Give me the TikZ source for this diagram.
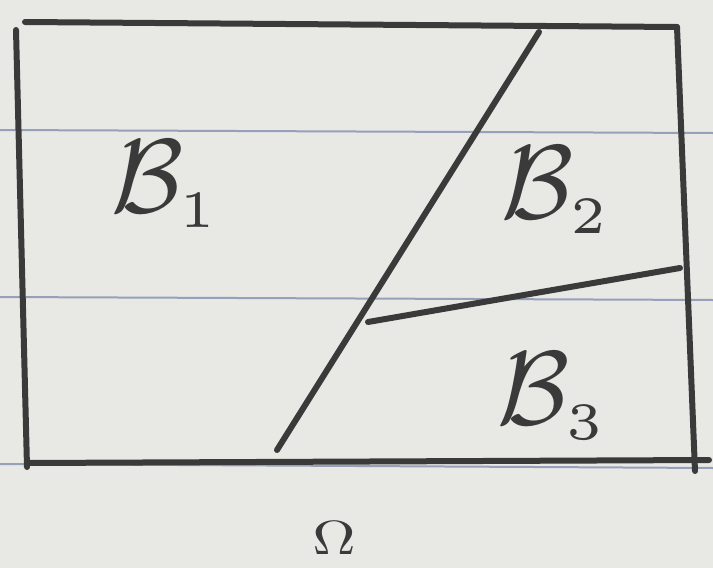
\documentclass[tikz,border=0pt]{standalone}
\usepackage{amsmath}
\begin{document}
\begin{tikzpicture}[x=1pt,y=-1pt,
  pen/.style={draw=ink,line width=6pt,line cap=round,line join=round},
  ruled/.style={draw=rule,line width=2pt},
  lab/.style={text=ink,scale=10.5,inner sep=0pt},
  omlab/.style={text=ink,xscale=6,yscale=4.8,inner sep=0pt}]
\definecolor{paper}{RGB}{232,232,229}
\definecolor{ink}{RGB}{58,58,58}
\definecolor{rule}{RGB}{150,160,185}
\fill[paper] (0,0) rectangle (713,568);
\useasboundingbox (0,0) rectangle (713,568);
% ruled paper lines
\coordinate (r1a) at (0,130); \coordinate (r1b) at (713,133);
\coordinate (r2a) at (0,297); \coordinate (r2b) at (713,300);
\coordinate (r3a) at (0,464); \coordinate (r3b) at (713,468);
\draw[ruled] (r1a) -- (r1b);
\draw[ruled] (r2a) -- (r2b);
\draw[ruled] (r3a) -- (r3b);
% rectangle corners
\coordinate (tl) at (25,22);
\coordinate (lt) at (16,30);
\coordinate (lb) at (27,467);
\coordinate (tr) at (677,27);
\coordinate (br) at (695,471);
\coordinate (bl) at (28,463);
\coordinate (be) at (709,460);
\draw[pen] (tl) -- (tr);
\draw[pen] (lt) -- (lb);
\draw[pen] (tr) -- (br);
\draw[pen] (bl) -- (be);
% partition lines
\coordinate (d1) at (539,32);
\coordinate (d2) at (277,450);
\coordinate (s1) at (368,322);
\coordinate (s2) at (680,268);
\draw[pen] (d1) -- (d2);
\draw[pen] (s1) -- (s2);
% labels
\node[lab] (b1) at (166,184) {$\mathcal{B}_{\scriptscriptstyle 1}$};
\node[lab] (b2) at (556,190) {$\mathcal{B}_{\scriptscriptstyle 2}$};
\node[lab] (b3) at (552,396) {$\mathcal{B}_{\scriptscriptstyle 3}$};
\node[omlab] (om) at (334,538) {$\Omega$};
\end{tikzpicture}
\end{document}
